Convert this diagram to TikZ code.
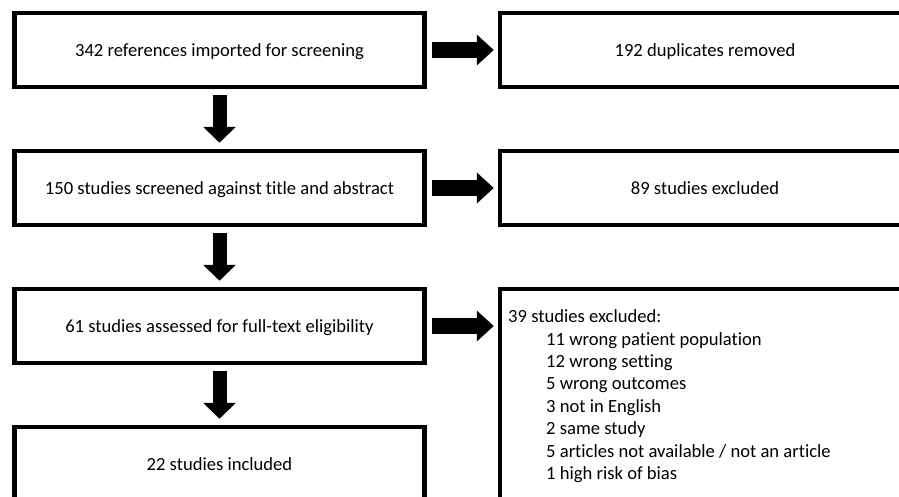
\documentclass[tikz,border=0pt]{standalone}
\usepackage{fontspec}
\setmainfont{Carlito}[Ligatures={NoCommon,NoRare,NoDiscretionary,NoContextual}]
\usetikzlibrary{arrows.meta,calc}
\begin{document}
\begin{tikzpicture}[x=1pt,y=-1pt,
  box/.style={draw,line width=4.5pt,minimum width=410pt,minimum height=74pt,inner sep=0pt,
    text height=15.5pt,text depth=2.5pt,font=\fontsize{18.6}{22}\selectfont},
  txt/.style={inner sep=0pt,align=left,font=\fontsize{18.6}{22.45}\selectfont},
  downarrow/.style={line width=14pt,-{Triangle[width=32pt,length=16pt]},shorten <=6pt,shorten >=6pt},
  rightarrow/.style={line width=16pt,-{Triangle[width=30pt,length=17pt]},shorten <=5pt,shorten >=4pt}]
\useasboundingbox (0,0) rectangle (899,496);
\clip (0,0) rectangle (899,496);
\node[box] (b1) at (219.5,50) {342 references imported for screening};
\node[box] (b2) at (219.5,188) {150 studies screened against title and abstract};
\node[box] (b3) at (219.5,326) {61 studies assessed for full-text eligibility};
\node[box] (b4) at (219.5,464) {22 studies included};
\node[box] (r1) at (705,50) {192 duplicates removed};
\node[box] (r2) at (705,188) {89 studies excluded};
\node[box,minimum height=240pt,text height=0pt,text depth=0pt] (r3) at (705,409) {};
\node[txt,anchor=north west] (r3t) at (508,309.5) {39 studies excluded:\\
\hspace*{38pt}11 wrong patient population\\
\hspace*{38pt}12 wrong setting\\
\hspace*{38pt}5 wrong outcomes\\
\hspace*{38pt}3 not in English\\
\hspace*{38pt}2 same study\\
\hspace*{38pt}5 articles not available / not an article\\
\hspace*{38pt}1 high risk of bias};
\draw[downarrow] (b1.south) -- (b2.north);
\draw[downarrow] (b2.south) -- (b3.north);
\draw[downarrow] (b3.south) -- (b4.north);
\draw[rightarrow] (b1.east) -- (r1.west);
\draw[rightarrow] (b2.east) -- (r2.west);
\draw[rightarrow] (b3.east) -- (b3.east -| r3.west);
\end{tikzpicture}
\end{document}
